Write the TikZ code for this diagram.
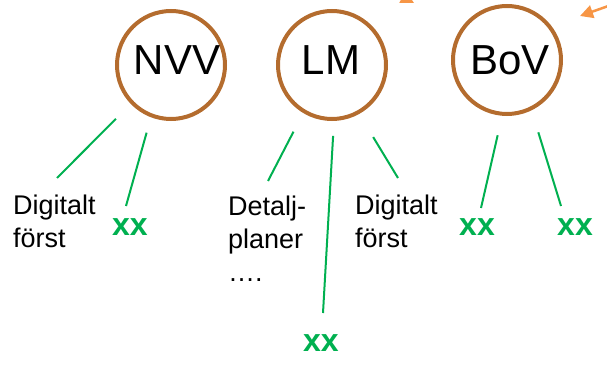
\documentclass[tikz,border=0pt]{standalone}
\usepackage{fontspec}
\setmainfont{Liberation Sans}
\usetikzlibrary{arrows.meta}
\definecolor{ringbrown}{RGB}{180,108,46}
\definecolor{leafgreen}{RGB}{0,176,80}
\definecolor{hintorange}{RGB}{247,150,70}

\begin{document}
\begin{tikzpicture}[x=1pt, y=-1pt,
   agency/.style ={circle, draw=ringbrown, line width=4pt, inner sep=0pt, minimum size=108pt},
   agencyname/.style ={inner sep=0pt, anchor=base, font=\fontsize{42}{42}\selectfont},
   note/.style ={inner sep=0pt, align=left, anchor=base west, font=\fontsize{27}{33}\selectfont},
   todo/.style ={inner sep=0pt, text=leafgreen, font=\bfseries\fontsize{32}{32}\selectfont},
   branch/.style ={draw=leafgreen, line width=2pt},
   hint/.style ={draw=hintorange, line width=2.5pt, -{Triangle[length=13pt,width=13pt]}}]
   \useasboundingbox (0,0) rectangle (607,366);
   \clip (0,0) rectangle (607,366);

   \node[agency] (nvv) at (171,65) {};
   \node[agency] (lm)  at (332,65) {};
   \node[agency] (bov) at (507,60) {};
   \node[agencyname] (nvvname) at (177,75) {NVV};
   \node[agencyname] (lmname)  at (331,75) {LM};
   \node[agencyname] (bovname) at (510,75) {BoV};

   % base anchor sits on the last line
   \node[note] (nvvnote) at (13,247)  {Digitalt\\först};
   \node[note] (lmplan)  at (228,281) {Detalj-\\planer\\….};
   \node[note] (lmnote)  at (355,247) {Digitalt\\först};
   \node[todo] (nvvtodo)  at (130,227) {xx};
   \node[todo] (lmtodo)   at (321,343) {xx};
   \node[todo] (bovtodoa) at (477,227) {xx};
   \node[todo] (bovtodob) at (575,227) {xx};

   \coordinate (nvvenda) at (57,178);
   \coordinate (nvvendb) at (126,206);
   \coordinate (lmenda)  at (268,181);
   \coordinate (lmendb)  at (323,313);
   \coordinate (lmendc)  at (398,178);
   \coordinate (bovenda) at (481,208);
   \coordinate (bovendb) at (561,206);

   \draw[branch, shorten <=21pt] (nvv.224) to (nvvenda);
   \draw[branch, shorten <=16pt] (nvv.249) to (nvvendb);
   \draw[branch, shorten <=21pt] (lm.239)  to (lmenda);
   \draw[branch, shorten <=15pt] (lm.272)  to (lmendb);
   \draw[branch, shorten <=27pt] (lm.299)  to (lmendc);
   \draw[branch, shorten <=20pt] (bov.265) to (bovenda);
   \draw[branch, shorten <=23pt] (bov.296) to (bovendb);

   % arrows coming in from outside the frame
   \coordinate (hintsrca) at (372,-20);
   \coordinate (hinttipa) at (414,3);
   \coordinate (hintsrcb) at (614,4);
   \coordinate (hinttipb) at (580,16);
   \draw[hint] (hintsrca) to (hinttipa);
   \draw[hint] (hintsrcb) to (hinttipb);
\end{tikzpicture}
\end{document}
